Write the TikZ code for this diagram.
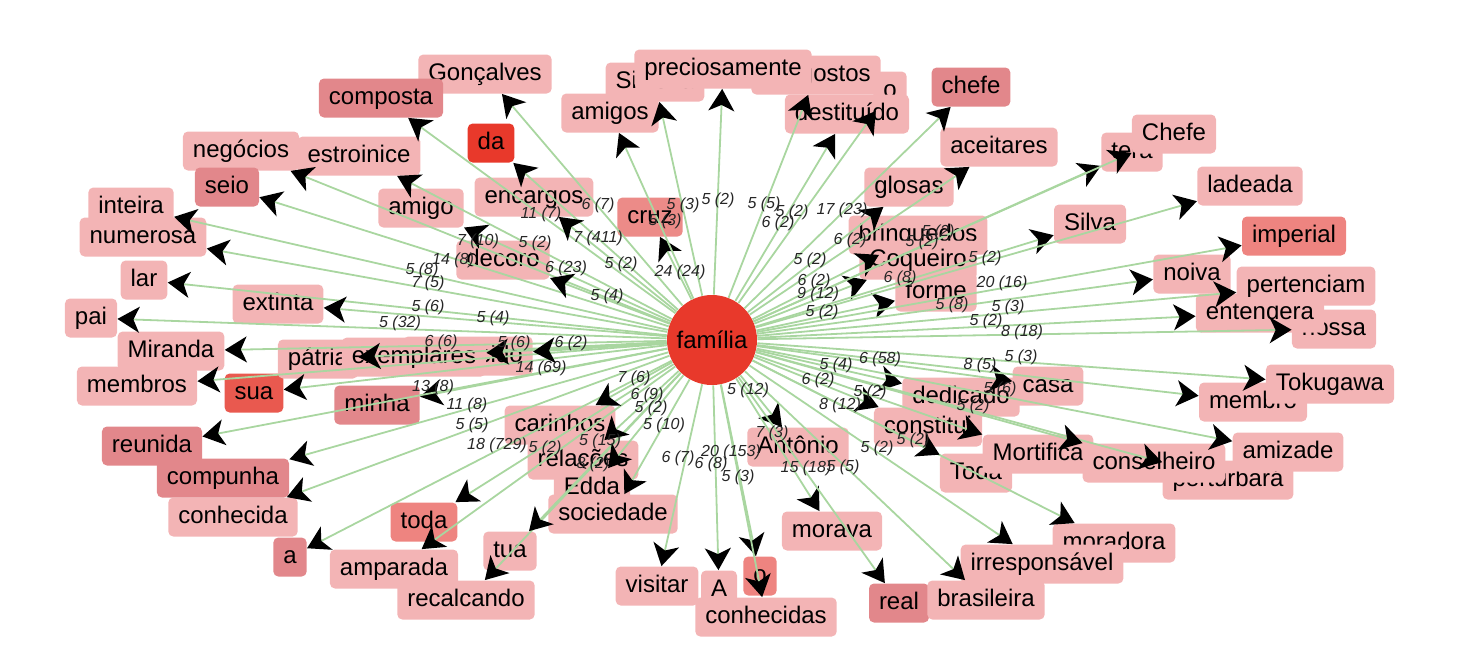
\documentclass[tikz,border=0pt]{standalone}
\usepackage{fontspec}
\setmainfont{Liberation Sans}
\usetikzlibrary{arrows.meta}
\definecolor{blight}{HTML}{F3B4B5}
\definecolor{bdark}{HTML}{E2878B}
\definecolor{bmed}{HTML}{EE8480}
\definecolor{bmedb}{HTML}{EC8B88}
\definecolor{bsua}{HTML}{E9594F}
\definecolor{bred}{HTML}{E8392B}
\definecolor{egreen}{HTML}{A9D6A0}
\begin{document}
\begin{tikzpicture}[x=0.5pt,y=-0.5pt,
  wb/.style={rectangle, rounded corners=2.5pt, fill=blight, inner xsep=5pt, inner ysep=0pt,
    minimum height=19.5pt, text height=9pt, text depth=2.6pt, font=\fontsize{12}{14}\selectfont, text=black},
  dk/.style={wb, fill=bdark},
  md/.style={wb, fill=bmed},
  mdb/.style={wb, fill=bmedb},
  su/.style={wb, fill=bsua},
  rd/.style={wb, fill=bred},
  edge/.style={draw=egreen, line width=0.9pt, -{Stealth[length=11pt,width=13pt,inset=3pt,color=black]}},
  lbl/.style={font=\fontsize{8}{9}\selectfont\itshape, text=black!85, inner sep=0pt}]
\useasboundingbox (0,0) rectangle (1482,666);

% centre
\node[circle, fill=bred, minimum size=45pt, inner sep=0pt, font=\fontsize{12}{14}\selectfont] (fam) at (712,340) {família};

% nodes (drawing order matters for overlaps)
\node[wb] (goncalves) at (485,74) {Gonçalves};
\node[dk] (composta) at (381,98) {composta};
\node[wb] (negocios) at (241,151) {negócios};
\node[wb] (estroinice) at (359,156) {estroinice};
\node[dk] (seio) at (227,187) {seio};
\node[wb] (amigo) at (421,208) {amigo};
\node[wb] (inteira) at (131,207) {inteira};
\node[wb] (numerosa) at (143,237) {numerosa};
\node[rd] (da) at (491,143) {da};
\node[wb] (encargos) at (534,197) {encargos};
\node[wb] (decoro) at (503,260) {decoro};
\node[mdb] (cruz) at (650,217) {cruz};
\node[wb] (silveira) at (655,82) {Silveira};
\node[wb] (amigos) at (610,113) {amigos};
\node[wb] (desgostos) at (816,75) {desgostos};
\node[wb] (otop) at (890,91) {o};
\node[wb] (precios) at (723,69) {preciosamente};
\node[wb] (destituido) at (847,114) {destituído};
\node[dk] (chefe) at (971,87) {chefe};
\node[wb] (aceitares) at (999,147) {aceitares};
\node[wb] (glosas) at (909,187) {glosas};
\node[wb] (brinq) at (918,235) {brinquedos};
\node[wb] (coqueiro) at (918,260) {Coqueiro};
\node[wb] (forme) at (936,292) {forme};
\node[wb] (silva) at (1090,224) {Silva};
\node[wb] (tera) at (1132,152) {tera};
\node[wb] (chefeb) at (1174,134) {Chefe};
\node[wb] (ladeada) at (1250,186) {ladeada};
\node[md] (imperial) at (1294,236) {imperial};
\node[wb] (noiva) at (1192,274) {noiva};
\node[wb] (nossa) at (1334,329) {nossa};
\node[wb] (entendera) at (1260,313) {entendera};
\node[wb] (pertenciam) at (1306,286) {pertenciam};
\node[wb] (lar) at (144,280) {lar};
\node[wb] (extinta) at (278,304) {extinta};
\node[wb] (pai) at (91,318) {pai};
\node[wb] (miranda) at (171,351) {Miranda};
\node[wb] (membros) at (137,386) {membros};
\node[su] (sua) at (254,393) {sua};
\node[wb] (patria) at (318,359) {pátria};
\node[wb] (esquecido) at (468,356) {esquecido};
\node[wb] (exemplares) at (414,357) {exemplares};
\node[dk] (minha) at (377,405) {minha};
\node[dk] (reunida) at (152,446) {reunida};
\node[dk] (compunha) at (223,478) {compunha};
\node[wb] (conhecida) at (233,517) {conhecida};
\node[dk] (a) at (290,557) {a};
\node[md] (toda) at (424,522) {toda};
\node[wb] (amparada) at (394,569) {amparada};
\node[wb] (recalcando) at (466,600) {recalcando};
\node[wb] (tua) at (510,551) {tua};
\node[wb] (carinhos) at (560,425) {carinhos};
\node[wb] (relacoes) at (583,460) {relações};
\node[wb] (edda) at (592,488) {Edda};
\node[wb] (sociedade) at (613,514) {sociedade};
\node[wb] (visitar) at (657,586) {visitar};
\node[wb] (A) at (719,590) {A};
\node[md] (obot) at (760,576) {o};
\node[wb] (conhecidas) at (766,617) {conhecidas};
\node[wb] (antonio) at (798,447) {Antônio};
\node[wb] (morava) at (832,531) {morava};
\node[dk] (real) at (899,603) {real};
\node[wb] (moradora) at (1114,543) {moradora};
\node[wb] (irresp) at (1042,564) {irresponsável};
\node[wb] (brasileira) at (986,600) {brasileira};
\node[wb] (Toda) at (976,473) {Toda};
\node[wb] (dedicado) at (961,397) {dedicado};
\node[wb] (casa) at (1048,386) {casa};
\node[wb] (constitui) at (928,427) {constitui};
\node[wb] (mortifica) at (1038,454) {Mortifica};
\node[wb] (perturbara) at (1228,480) {perturbará};
\node[wb] (conselheiro) at (1154,463) {conselheiro};
\node[wb] (amizade) at (1288,452) {amizade};
\node[wb] (membro) at (1253,402) {membro};
\node[wb] (tokugawa) at (1330,384) {Tokugawa};

% connectors
\foreach \n in {goncalves,composta,negocios,estroinice,seio,amigo,inteira,numerosa,da,encargos,
  decoro,cruz,silveira,amigos,desgostos,otop,precios,destituido,chefe,aceitares,glosas,brinq,
  coqueiro,forme,silva,tera,chefeb,ladeada,imperial,noiva,nossa,entendera,pertenciam,lar,extinta,
  pai,miranda,membros,sua,patria,exemplares,esquecido,minha,reunida,compunha,conhecida,a,toda,
  amparada,recalcando,tua,carinhos,relacoes,edda,sociedade,visitar,A,obot,conhecidas,antonio,
  morava,real,moradora,irresp,brasileira,Toda,dedicado,casa,constitui,mortifica,perturbara,
  conselheiro,amizade,membro,tokugawa}
  {\draw[edge] (fam) -- (\n);}

% connector labels
\foreach \x/\y/\t [count=\i] in {
  598/205/6 (7), 541/214/11 (7), 598/238/7 (411), 683/205/5 (3), 665/221/5 (3),
  718/200/5 (2), 764/204/5 (5), 792/212/5 (2), 778/223/6 (2), 842/210/17 (23),
  478/241/7 (10), 535/243/5 (2), 453/260/14 (8), 566/268/6 (23), 621/264/5 (2),
  680/272/24 (24), 607/296/5 (4), 422/270/5 (8), 428/283/7 (5), 428/307/5 (6),
  400/323/5 (32), 493/318/5 (4), 441/342/6 (6), 514/343/5 (6), 571/343/6 (2),
  541/368/14 (69), 433/387/13 (8), 467/405/11 (8), 472/425/5 (5), 497/445/18 (729),
  545/448/5 (2), 634/378/7 (6), 647/395/6 (9), 651/408/5 (2), 664/425/5 (10),
  600/441/5 (15), 593/464/8 (2), 678/458/6 (7), 731/452/20 (153), 711/464/6 (8),
  738/477/5 (3), 748/390/5 (12), 772/433/7 (3), 806/468/15 (18), 843/467/5 (5),
  877/448/5 (2), 913/440/5 (2), 840/405/8 (12), 870/392/5 (2), 818/380/6 (2),
  836/365/5 (4), 880/359/6 (58), 980/365/8 (5), 1021/357/5 (3), 1000/389/5 (6),
  973/406/5 (2), 952/305/5 (8), 1008/307/5 (3), 986/321/5 (2), 1022/332/8 (18),
  822/312/5 (2), 818/294/9 (12), 814/281/6 (2), 900/278/6 (8), 1002/283/20 (16),
  810/260/5 (2), 850/240/6 (2), 922/242/5 (2), 985/258/5 (2), 938/232/5 (2)}
  {\node[lbl] (l\i) at (\x,\y) {\t};}
\end{tikzpicture}
\end{document}
